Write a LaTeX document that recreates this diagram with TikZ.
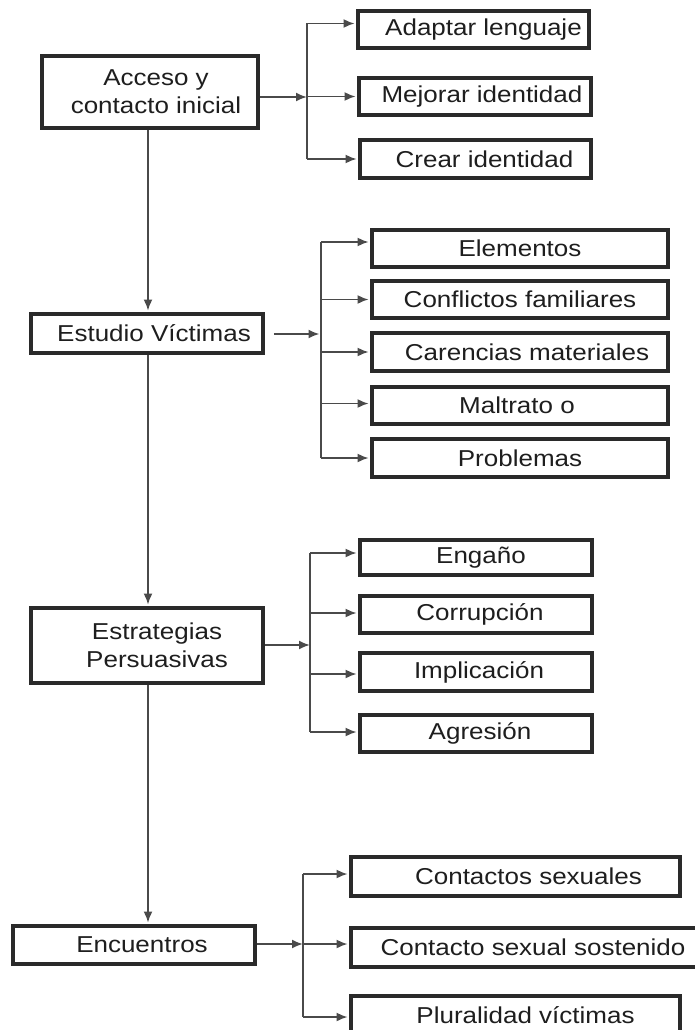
\documentclass[tikz,border=0pt]{standalone}
\usepackage{fontspec}
\setmainfont{Liberation Sans}[FakeStretch=1.13]
\usetikzlibrary{arrows.meta}
\definecolor{boxc}{HTML}{2A2A2A}
\definecolor{linec}{HTML}{4A4A4A}
\definecolor{txtc}{HTML}{1E1E1E}
\tikzset{
  box/.style={draw=boxc, line width=3.6pt, fill=white, inner sep=0pt, align=center,
    text=txtc, font=\fontsize{23}{28}\selectfont, minimum height=37pt},
  conn/.style={draw=linec, line width=1.9pt},
  arr/.style={conn, -{Latex[length=11pt,width=9pt]}, shorten >=1.6pt},
}
\begin{document}
\begin{tikzpicture}[x=1pt,y=-1pt]
\useasboundingbox (0,0) rectangle (695,1030);
\clip (0,0) rectangle (695,1030);
\fill[white] (0,0) rectangle (695,1030);

% main column
\node[box, minimum width=216pt, minimum height=72pt] (acc) at (150,92) {\hspace*{12pt}Acceso y\\\hspace*{12pt}contacto inicial};
\node[box, minimum width=232pt, minimum height=39pt] (est) at (147,333.5) {\hspace*{14pt}Estudio Víctimas};
\node[box, minimum width=232pt, minimum height=75pt] (estr) at (147,645.5) {\hspace*{20pt}Estrategias\\\hspace*{20pt}Persuasivas};
\node[box, minimum width=242pt, minimum height=38pt] (enc) at (134,945) {\hspace*{16pt}Encuentros};

% group 1
\node[box, minimum width=231pt] (ada) at (473.5,29.5) {\hspace*{20pt}Adaptar lenguaje};
\node[box, minimum width=232pt] (mej) at (475,96.5) {\hspace*{14pt}Mejorar identidad};
\node[box, minimum width=231pt, minimum height=38pt] (cre) at (475.5,159) {\hspace*{18pt}Crear identidad};

% group 2
\node[box, minimum width=296pt] (ele) at (520,248.5) {Elementos};
\node[box, minimum width=296pt] (con) at (520,299.5) {Conflictos familiares};
\node[box, minimum width=296pt, minimum height=38pt] (car) at (520,352) {\hspace*{14pt}Carencias materiales};
\node[box, minimum width=296pt] (mal) at (520,405.5) {Maltrato o\hspace*{6pt}};
\node[box, minimum width=296pt, minimum height=38pt] (pro) at (520,458) {Problemas};

% group 3
\node[box, minimum width=232pt, minimum height=35pt] (eng) at (476,557.5) {\hspace*{10pt}Engaño};
\node[box, minimum width=232pt] (cor) at (476,614.5) {\hspace*{8pt}Corrupción};
\node[box, minimum width=232pt, minimum height=38pt] (imp) at (476,672) {\hspace*{6pt}Implicación};
\node[box, minimum width=232pt] (agr) at (476,733.5) {\hspace*{8pt}Agresión};

% group 4
\node[box, minimum width=329pt, minimum height=39pt] (cs) at (515.5,876.5) {\hspace*{26pt}Contactos sexuales};
\node[box, minimum width=360pt, minimum height=39pt] (css) at (531,947.5) {\hspace*{4pt}Contacto sexual sostenido};
\node[box, minimum width=329pt, minimum height=39pt] (plu) at (515.5,1015.5) {\hspace*{20pt}Pluralidad víctimas};

% junctions
\coordinate (vx) at (148,0);
\coordinate (j1) at (307,97);
\coordinate (j2) at (321,334);
\coordinate (j3) at (310,645);
\coordinate (j4) at (303,944);

% arrow entry points on the boxes
\coordinate (ada-in) at ([yshift=6pt]ada.west);
\coordinate (ele-in) at ([yshift=6.5pt]ele.west);
\coordinate (mal-in) at ([yshift=2pt]mal.west);
\coordinate (eng-in) at ([yshift=4.5pt]eng.west);
\coordinate (cor-in) at ([yshift=1.5pt]cor.west);
\coordinate (imp-in) at ([yshift=-2pt]imp.west);
\coordinate (agr-in) at ([yshift=1.5pt]agr.west);
\coordinate (cs-in) at ([yshift=2.5pt]cs.west);
\coordinate (css-in) at ([yshift=3.5pt]css.west);
\coordinate (plu-in) at ([yshift=-1.5pt]plu.west);
\coordinate (est-out) at ([xshift=9pt]est.east);

% main vertical arrows
\draw[arr] (acc.south -| vx) -- (est.north -| vx);
\draw[arr] (est.south -| vx) -- (estr.north -| vx);
\draw[arr] (estr.south -| vx) -- (enc.north -| vx);

% group 1 connectors
\draw[arr, shorten >=0pt] (acc.east |- j1) -- (j1);
\draw[conn] (j1 |- ada-in) -- (j1 |- cre.west);
\draw[arr] (j1 |- ada-in) -- (ada-in);
\draw[arr] (j1 |- mej.west) -- (mej.west);
\draw[arr] (j1 |- cre.west) -- (cre.west);

% group 2 connectors
\draw[arr, shorten >=1.5pt] (est-out |- j2) -- (j2);
\draw[conn] (j2 |- ele-in) -- (j2 |- pro.west);
\draw[arr] (j2 |- ele-in) -- (ele-in);
\draw[arr] (j2 |- con.west) -- (con.west);
\draw[arr] (j2 |- car.west) -- (car.west);
\draw[arr] (j2 |- mal-in) -- (mal-in);
\draw[arr] (j2 |- pro.west) -- (pro.west);

% group 3 connectors
\draw[arr, shorten >=0pt] (estr.east |- j3) -- (j3);
\draw[conn] (j3 |- eng-in) -- (j3 |- agr-in);
\draw[arr] (j3 |- eng-in) -- (eng-in);
\draw[arr] (j3 |- cor-in) -- (cor-in);
\draw[arr] (j3 |- imp-in) -- (imp-in);
\draw[arr] (j3 |- agr-in) -- (agr-in);

% group 4 connectors
\draw[arr, shorten >=0pt] (enc.east |- j4) -- (j4);
\draw[conn] (j4 |- cs-in) -- (j4 |- plu-in);
\draw[arr] (j4 |- cs-in) -- (cs-in);
\draw[arr] (j4 |- css-in) -- (css-in);
\draw[arr] (j4 |- plu-in) -- (plu-in);
\end{tikzpicture}
\end{document}
